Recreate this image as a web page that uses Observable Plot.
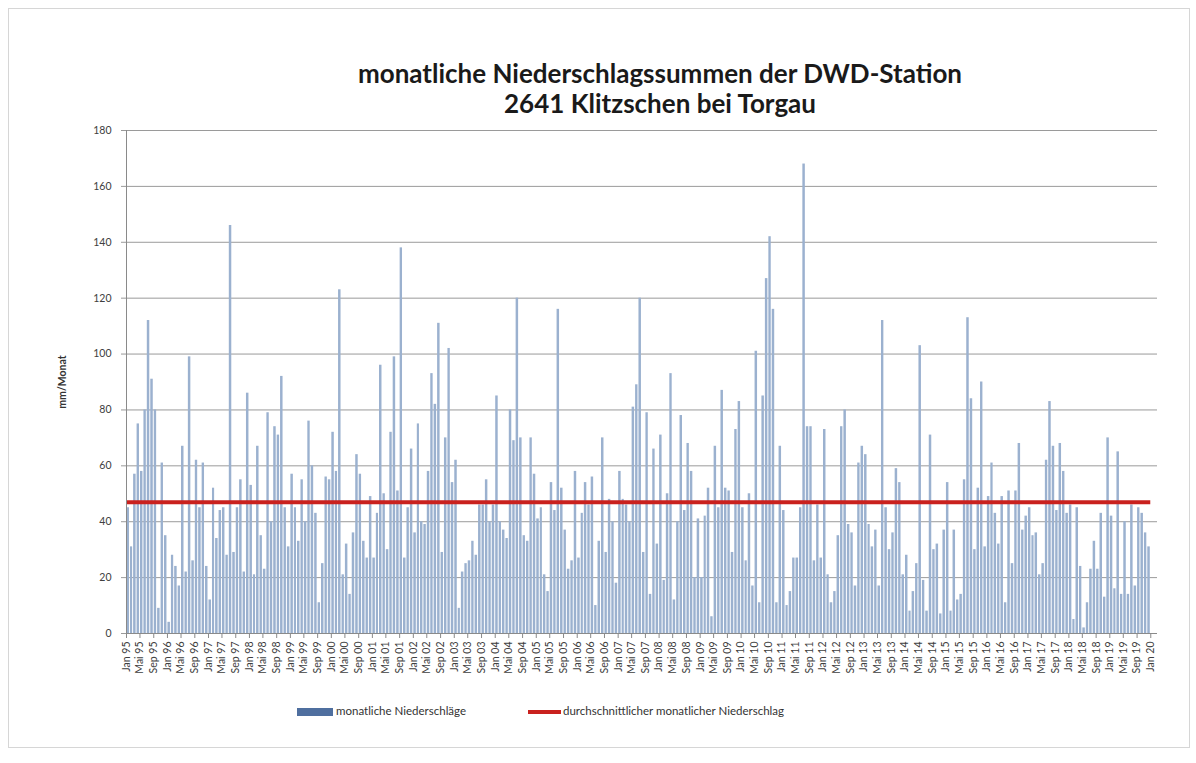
<!DOCTYPE html>
<html>
<head>
<meta charset="utf-8">
<script src="https://cdn.jsdelivr.net/npm/d3@7"></script>
<script src="https://cdn.jsdelivr.net/npm/@observablehq/plot@0.6"></script>
<style>
  html, body { margin: 0; padding: 0; background: #fff; }
  #wrap { position: relative; width: 1196px; height: 763px; overflow: hidden; font-family: Lato, "Open Sans", sans-serif; }
  #frame { position: absolute; left: 8px; top: 8px; width: 1180px; height: 738px; border: 1px solid #d6d6d6; pointer-events: none; }
  #title { height: 60px; padding-top: 58px; padding-left: 124px; text-align: center; font-weight: bold; font-size: 26px; line-height: 30px; color: #1a1a1a; }
  #chart svg { display: block; }
  #legend { position: relative; height: 40px; font-size: 11.5px; color: #333; }
  .sw1 { position: absolute; left: 297px; top: 18px; width: 36px; height: 8px; background: #4f6f9f; }
  .sw2 { position: absolute; left: 528px; top: 20px; width: 33px; height: 4px; background: #c9211e; }
  .t1 { position: absolute; left: 336px; top: 14px; }
  .t2 { position: absolute; left: 563px; top: 14px; }
</style>
</head>
<body>
<div id="wrap">
  <div id="frame"></div>
  <div id="title">monatliche Niederschlagssummen der DWD-Station<br>2641 Klitzschen bei Torgau</div>
  <div id="chart"></div>
  <div id="legend">
    <div class="sw1"></div><div class="t1">monatliche Niederschläge</div>
    <div class="sw2"></div><div class="t2">durchschnittlicher monatlicher Niederschlag</div>
  </div>
</div>
<script>
// Monatliche Niederschlagssummen (mm/Monat), Jan..Dez je Jahr
const n1995 = [45, 31, 57, 75, 58, 80, 112, 91, 80, 9, 61, 35];
const n1996 = [4, 28, 24, 17, 67, 22, 99, 26, 62, 45, 61, 24];
const n1997 = [12, 52, 34, 44, 45, 28, 146, 29, 45, 55, 22, 86];
const n1998 = [53, 21, 67, 35, 23, 79, 40, 74, 71, 92, 45, 31];
const n1999 = [57, 45, 33, 55, 40, 76, 60, 43, 11, 25, 56, 55];
const n2000 = [72, 58, 123, 21, 32, 14, 36, 64, 57, 33, 27, 49];
const n2001 = [27, 43, 96, 50, 30, 72, 99, 51, 138, 27, 45, 66];
const n2002 = [36, 75, 40, 39, 58, 93, 82, 111, 29, 70, 102, 54];
const n2003 = [62, 9, 22, 25, 26, 33, 28, 46, 46, 55, 40, 46];
const n2004 = [85, 40, 37, 34, 80, 69, 120, 70, 35, 33, 70, 57];
const n2005 = [41, 45, 21, 15, 54, 44, 116, 52, 37, 23, 26, 58];
const n2006 = [27, 43, 54, 46, 56, 10, 33, 70, 29, 48, 40, 18];
const n2007 = [58, 48, 46, 40, 81, 89, 120, 29, 79, 14, 66, 32];
const n2008 = [71, 19, 50, 93, 12, 40, 78, 44, 68, 58, 20, 41];
const n2009 = [20, 42, 52, 6, 67, 45, 87, 52, 51, 29, 73, 83];
const n2010 = [45, 26, 50, 17, 101, 11, 85, 127, 142, 116, 11, 67];
const n2011 = [44, 10, 15, 27, 27, 45, 168, 74, 74, 26, 46, 27];
const n2012 = [73, 21, 11, 15, 35, 74, 80, 39, 36, 17, 61, 67];
const n2013 = [64, 39, 31, 37, 17, 112, 45, 30, 36, 59, 54, 21];
const n2014 = [28, 8, 15, 25, 103, 19, 8, 71, 30, 32, 7, 37];
const n2015 = [54, 8, 37, 12, 14, 55, 113, 84, 30, 52, 90, 31];
const n2016 = [49, 61, 43, 32, 49, 11, 51, 25, 51, 68, 37, 42];
const n2017 = [45, 35, 36, 21, 25, 62, 83, 67, 44, 68, 58, 43];
const n2018 = [46, 5, 45, 24, 2, 11, 23, 33, 23, 43, 13, 70];
const n2019 = [42, 16, 65, 14, 40, 14, 46, 17, 45, 43, 36, 31];

const jahre = [1995, 1996, 1997, 1998, 1999, 2000, 2001, 2002, 2003, 2004, 2005, 2006, 2007,
               2008, 2009, 2010, 2011, 2012, 2013, 2014, 2015, 2016, 2017, 2018, 2019];
const werte = [n1995, n1996, n1997, n1998, n1999, n2000, n2001, n2002, n2003, n2004, n2005, n2006, n2007,
               n2008, n2009, n2010, n2011, n2012, n2013, n2014, n2015, n2016, n2017, n2018, n2019];
const monatsNamen = ["Jan", "Feb", "Mär", "Apr", "Mai", "Jun", "Jul", "Aug", "Sep", "Okt", "Nov", "Dez"];
const mittelwert = 47;           // durchschnittlicher monatlicher Niederschlag
const yTicks = [0, 20, 40, 60, 80, 100, 120, 140, 160, 180];

const data = [];
jahre.forEach((j, k) => werte[k].forEach((v, m) => data.push({ date: new Date(Date.UTC(j, m, 1)), value: v })));

const start = new Date(Date.UTC(1995, 0, 1));
const ende = new Date(Date.UTC(2020, 0, 1));
const domainEnd = new Date(Date.UTC(2020, 2, 1));
const xTicks = d3.utcMonth.range(start, new Date(Date.UTC(2020, 1, 1)), 4);
const fmt = d => `${monatsNamen[d.getUTCMonth()]} ${String(d.getUTCFullYear()).slice(2)}`;

const plot = Plot.plot({
  width: 1196,
  height: 572,
  marginLeft: 126,
  marginRight: 39,
  marginTop: 12,
  marginBottom: 57,
  style: { fontFamily: "Lato, 'Open Sans', sans-serif", fontSize: "10.5px", color: "#404040", background: "transparent" },
  x: { type: "utc", domain: [start, domainEnd] },
  y: { domain: [0, 180] },
  marks: [
    Plot.ruleY(yTicks.filter(t => t > 0), { stroke: "#9a9a9a", strokeWidth: 1, strokeOpacity: 1 }),
    Plot.rectY(data, { x: "date", interval: "month", y: "value", fill: "#9bb1cf", insetLeft: 0.5, insetRight: 0.5 }),
    Plot.ruleY([mittelwert], { x1: start, x2: ende, stroke: "#c9211e", strokeWidth: 4 }),
    Plot.ruleY([0], { stroke: "#8a8a8a" }),
    Plot.ruleX([start], { stroke: "#8a8a8a" }),
    Plot.axisY({ ticks: yTicks, tickSize: 5, tickPadding: 10, label: null, stroke: "#9a9a9a" }),
    Plot.axisX({ ticks: xTicks, tickFormat: fmt, tickRotate: -90, tickSize: 5, tickPadding: 3, label: null, stroke: "#8a8a8a" }),
    Plot.text(["mm/Monat"], { frameAnchor: "left", dx: -64, rotate: -90, textAnchor: "middle", fontSize: 10.5, fontWeight: "bold", fill: "#333" })
  ]
});
document.getElementById("chart").appendChild(plot);
</script>
</body>
</html>
